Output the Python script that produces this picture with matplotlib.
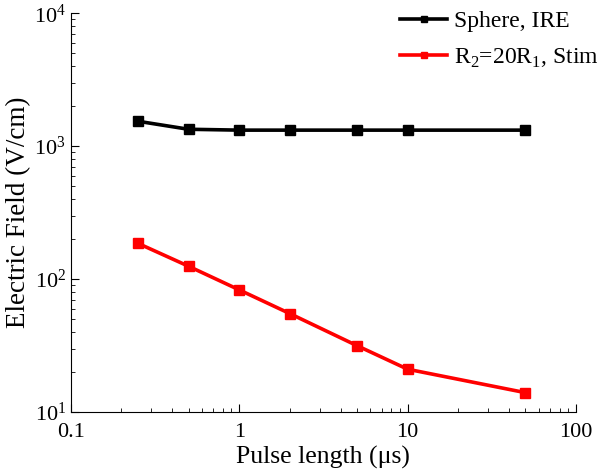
import matplotlib
matplotlib.use("Agg")
import matplotlib.pyplot as plt

plt.rcParams["font.family"] = ["Liberation Serif", "DejaVu Serif"]
plt.rcParams["mathtext.fontset"] = "custom"
plt.rcParams["mathtext.rm"] = "Liberation Serif"

# pulse length (us)
pulse = [0.25, 0.5, 1, 2, 5, 10, 50]
sphere_ire = [1540, 1340, 1320, 1320, 1320, 1320, 1320]
r2_stim = [186, 125, 83, 55, 31.6, 21, 14]

fig = plt.figure(figsize=(6, 4.72), dpi=100)
ax = fig.add_axes([0.118, 0.127, 0.842, 0.845])

ax.plot(pulse, sphere_ire, color="black", lw=2.6, marker="s", ms=6.5, label="Sphere, IRE")
ax.plot(pulse, r2_stim, color="#ff0000", lw=2.6, marker="s", ms=6.5,
        label=r"R$_2$=20R$_1$, Stim")

ax.set_xscale("log")
ax.set_yscale("log")
ax.set_xlim(0.1, 100)
ax.set_ylim(10, 1e4)
ax.set_xticks([0.1, 1, 10, 100])
ax.set_xticklabels(["0.1", "1", "10", "100"])

ax.spines["top"].set_visible(False)
ax.spines["right"].set_visible(False)
ax.tick_params(which="both", direction="in", labelsize=16)
ax.tick_params(axis="x", pad=8)
ax.tick_params(which="major", length=6)
ax.tick_params(which="minor", length=3)

ax.set_xlabel("Pulse length (\u03bcs)", fontsize=18.5, labelpad=3)
ax.set_ylabel("Electric Field (V/cm)", fontsize=19.5, labelpad=2)

leg = ax.legend(loc="upper right", frameon=False, fontsize=17, handlelength=2.0,
                handletextpad=0.3, borderaxespad=0.0, labelspacing=0.6,
                markerscale=0.7, bbox_to_anchor=(1.065, 1.03))

fig.savefig("out.png", dpi=100)
